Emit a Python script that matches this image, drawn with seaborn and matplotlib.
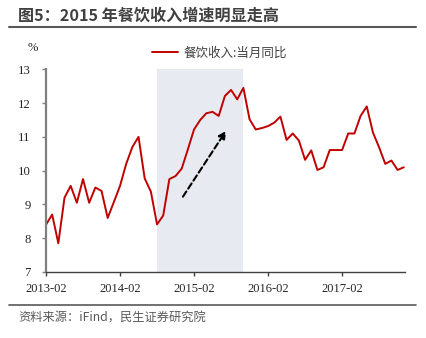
import numpy as np
import pandas as pd
import matplotlib
matplotlib.use("Agg")
import matplotlib.pyplot as plt
import seaborn as sns

months = list(pd.date_range("2013-02-01", periods=59, freq="MS").strftime("%Y-%m"))
values = [8.4, 8.7, 7.85, 9.2, 9.55, 9.05, 9.75, 9.05, 9.5, 9.4, 8.6, 9.07,
          9.55, 10.2, 10.7, 11.0, 9.77, 9.38, 8.41, 8.67, 9.75, 9.84, 10.06, 10.63,
          11.22, 11.5, 11.7, 11.74, 11.62, 12.21, 12.39, 12.11, 12.45, 11.52, 11.22, 11.26,
          11.32, 11.42, 11.6, 10.91, 11.1, 10.89, 10.32, 10.6, 10.02, 10.1, 10.61, 10.61,
          10.61, 11.1, 11.1, 11.62, 11.9, 11.13, 10.69, 10.2, 10.3, 10.02, 10.1]
tick_labels = ["2013-02", "2014-02", "2015-02", "2016-02", "2017-02"]
y_ticks = [7, 8, 9, 10, 11, 12, 13]
series_name = "餐饮收入:当月同比"
shade_start, shade_end = "2014-08", "2015-10"
arrow_from = ("2014-12", 9.23)
arrow_to = ("2015-07", 11.18)

sns.set_theme(style="white")
plt.rcParams["font.family"] = ["Noto Sans CJK SC", "DejaVu Sans"]

df = pd.DataFrame({"idx": np.arange(len(months)), "month": months, "value": values})

fig = plt.figure(figsize=(4.27, 3.38), dpi=100)
ax = fig.add_axes([46 / 427, 1 - 272 / 338, (405 - 46) / 427, (272 - 69.3) / 338])

pos = {m: i for i, m in enumerate(months)}
ax.axvspan(pos[shade_start], pos[shade_end], color="#E7EAF0", lw=0, zorder=0)

sns.lineplot(data=df, x="idx", y="value", ax=ax, color="#C00000", lw=1.4, label=series_name)

ax.annotate("", xy=(pos[arrow_to[0]] + 0.2, arrow_to[1]),
            xytext=(pos[arrow_from[0]] + 0.2, arrow_from[1]),
            arrowprops=dict(arrowstyle="-|>", linestyle=(0, (3, 1.6)), color="black",
                            lw=1.5, mutation_scale=11, shrinkA=0, shrinkB=0))

ax.set_xlim(0, 58.2)
ax.set_ylim(7, 13)
ax.set_yticks(y_ticks)
ax.set_yticklabels([str(v) for v in y_ticks], fontfamily="Liberation Serif", fontsize=9.2, color="#262626")
ax.set_xticks([pos[t] for t in tick_labels])
ax.set_xticklabels(tick_labels, fontfamily="Liberation Serif", fontsize=9, color="#262626")
ax.set_xlabel("")
ax.set_ylabel("")
ax.tick_params(axis="y", left=True, length=3, width=1, color="#7f7f7f", pad=8)
ax.tick_params(axis="x", bottom=True, length=3, width=1, color="#404040", pad=5)
for s in ["top", "right"]:
    ax.spines[s].set_visible(False)
ax.spines["left"].set_color("#7f7f7f")
ax.spines["left"].set_linewidth(1.6)
ax.spines["bottom"].set_color("#404040")
ax.spines["bottom"].set_linewidth(1.0)

leg = ax.legend(loc="center left", bbox_to_anchor=(152 / 427, 1 - 53 / 338),
                bbox_transform=fig.transFigure, frameon=False, borderpad=0,
                borderaxespad=0, handlelength=2.1, handletextpad=0.4,
                prop={"size": 9, "family": ["Noto Sans CJK SC", "DejaVu Sans"]})
for t in leg.get_texts():
    t.set_color("#404040")

fig.text(28 / 427, 1 - 48 / 338, "%", fontfamily="Liberation Serif", fontsize=9,
         color="#262626", ha="left", va="center")

fig.text(18 / 427, 1 - 16 / 338, "图5：2015 年餐饮收入增速明显走高", fontsize=11.6,
         fontweight="bold", color="#404040", ha="left", va="center")
fig.add_artist(plt.Line2D([9 / 427, 416 / 427], [1 - 27 / 338, 1 - 27 / 338],
                          transform=fig.transFigure, color="#595959", lw=1.5))
fig.add_artist(plt.Line2D([9 / 427, 416 / 427], [1 - 305 / 338, 1 - 305 / 338],
                          transform=fig.transFigure, color="#595959", lw=1.2))
fig.text(18 / 427, 1 - 318 / 338, "资料来源：iFind，民生证券研究院", fontsize=8.8,
         color="#595959", ha="left", va="center")

fig.savefig("out.png", dpi=100)
